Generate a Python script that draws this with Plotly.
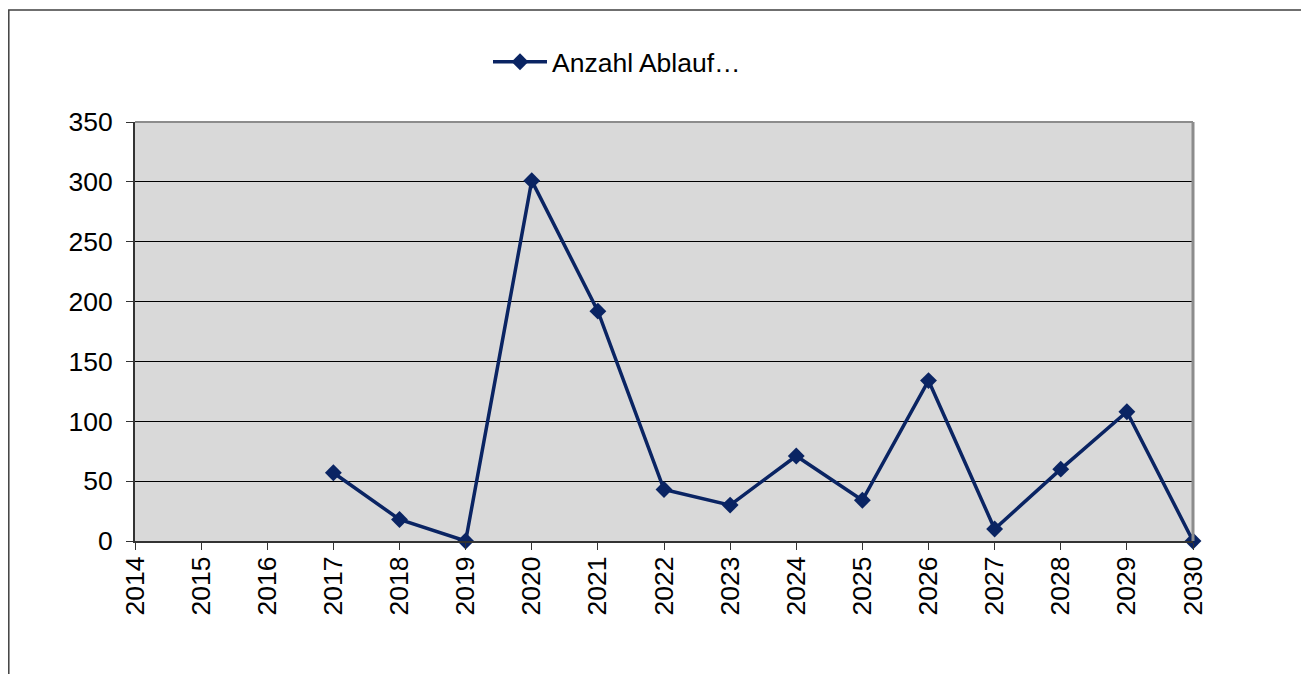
import plotly.graph_objects as go

years = list(range(2014, 2031))
values = [None, None, None, 57, 18, 0, 301, 192, 43, 30, 71, 34, 134, 10, 60, 108, 0]
y_ticks = [0, 50, 100, 150, 200, 250, 300, 350]
series_name = "Anzahl Ablauf…"

# page has an 8px body margin; positions below are in figure coordinates
OFF = 8
W, H = 1309 - 2 * OFF, 682 - 2 * OFF
L, R, T, B = 135 - OFF, 1193 - OFF, 122 - OFF, 541 - OFF

fig = go.Figure()
fig.add_trace(go.Scatter(
    x=years, y=values, mode="lines+markers", name=series_name,
    line=dict(color="#0A2463", width=3.5),
    marker=dict(symbol="diamond", size=13, color="#0A2463"),
    connectgaps=False, cliponaxis=False,
))

pw, ph = R - L, B - T
def px_x(p): return (p - OFF - L) / pw
def px_y(p): return (B - (p - OFF)) / ph

shapes = [
    # outer chart frame
    dict(type="rect", xref="paper", yref="paper",
         x0=px_x(8.8), x1=px_x(1340), y0=px_y(10), y1=px_y(720),
         line=dict(color="#404040", width=1.5), fillcolor="rgba(0,0,0,0)", layer="below"),
    # plot-area border top and right
    dict(type="line", xref="paper", yref="paper", x0=0, x1=1, y0=1, y1=1,
         line=dict(color="#8C8C8C", width=2)),
    dict(type="line", xref="paper", yref="paper", x0=1, x1=1, y0=0, y1=1,
         line=dict(color="#8C8C8C", width=3)),
]

font = dict(family="Liberation Sans, Arial, sans-serif", size=26.5, color="#000000")

fig.update_layout(
    width=W, height=H,
    margin=dict(l=L, r=W - R, t=T, b=H - B, pad=0),
    paper_bgcolor="white", plot_bgcolor="#D9D9D9",
    font=font,
    showlegend=True,
    legend=dict(x=px_x(488), y=px_y(62), xanchor="left", yanchor="middle",
                orientation="h", bgcolor="rgba(0,0,0,0)", font=font,
                itemwidth=54),
    shapes=shapes,
    xaxis=dict(range=[2014, 2030], tickmode="array", tickvals=years,
               ticktext=[str(y) for y in years], tickangle=-90,
               ticks="outside", ticklen=7, tickcolor="#333333", tickwidth=1,
               showline=True, linecolor="#333333", linewidth=2,
               showgrid=False, zeroline=False, ticklabelstandoff=-4),
    yaxis=dict(range=[0, 350], tickmode="array", tickvals=y_ticks,
               ticks="outside", ticklen=7, tickcolor="#333333", tickwidth=1,
               showline=True, linecolor="#333333", linewidth=2,
               showgrid=True, gridcolor="#000000", gridwidth=1,
               zeroline=False, ticklabelstandoff=8),
)

fig.write_html("out.html")
